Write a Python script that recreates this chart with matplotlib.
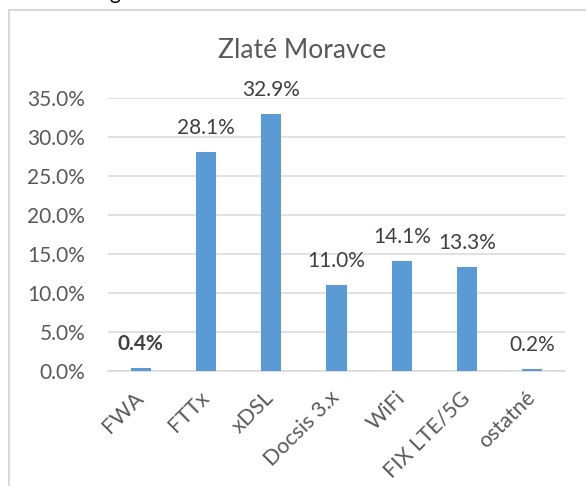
import matplotlib.pyplot as plt
from matplotlib.lines import Line2D

categories = ['FWA', 'FTTx', 'xDSL', 'Docsis 3.x', 'WiFi', 'FIX LTE/5G', 'ostatné']
shares = [0.4, 28.1, 32.9, 11.0, 14.1, 13.3, 0.2]
y_ticks = [0, 5, 10, 15, 20, 25, 30, 35]
bold_labels = ['FWA']

plt.rcParams['font.family'] = ['Lato', 'DejaVu Sans']
text_col = '#595959'
grid_col = '#d9d9d9'

fig = plt.figure(figsize=(5.86, 4.86), dpi=100)
ax = fig.add_axes([108 / 586, 1 - 371 / 486, 457 / 586, 273 / 486])

x = list(range(len(categories)))
ax.bar(x, shares, width=0.31, color='#5b9bd5', zorder=3)

# datove popisky nad stlpcami
for xi, v, cat in zip(x, shares, categories):
    ax.annotate(f'{v:.1f}%', (xi, v), xytext=(0, 13), textcoords='offset points',
                ha='center', va='baseline', fontsize=15, color='#404040',
                fontweight='bold' if cat in bold_labels else 'normal')

ax.set_xlim(-0.5, len(categories) - 0.5)
ax.set_ylim(0, 35)
ax.set_yticks(y_ticks)
ax.set_yticklabels([f'{t:.1f}%' for t in y_ticks])
ax.set_xticks(x)
ax.set_xticklabels(categories, rotation=45, ha='right', va='center',
                   rotation_mode='anchor')
ax.tick_params(axis='y', length=0, pad=16.5, labelsize=15, labelcolor=text_col)
ax.tick_params(axis='x', length=0, pad=17, labelsize=15.5, labelcolor=text_col)
ax.grid(axis='y', color=grid_col, linewidth=1.1, zorder=0)
for s in ['top', 'right', 'left']:
    ax.spines[s].set_visible(False)
ax.spines['bottom'].set_color(grid_col)
ax.spines['bottom'].set_linewidth(1.1)

fig.text(302 / 586, 1 - 58 / 486, 'Zlaté Moravce', ha='center', va='baseline',
         fontsize=19, color=text_col)

# okraj grafu (len lavy a horny je viditelny)
fig.add_artist(Line2D([9.5 / 586, 9.5 / 586], [0, 1 - 10 / 486],
                      transform=fig.transFigure, color=grid_col, lw=1.5))
fig.add_artist(Line2D([9 / 586, 1], [1 - 10 / 486, 1 - 10 / 486],
                      transform=fig.transFigure, color=grid_col, lw=1.5))

# zvysok textu nad grafom (v originali tiez orezany)
fig.text(109 / 586, 1 + 1 / 486, 'g', ha='left', va='baseline', fontsize=15, color='black')

fig.savefig('out.png', dpi=100)
